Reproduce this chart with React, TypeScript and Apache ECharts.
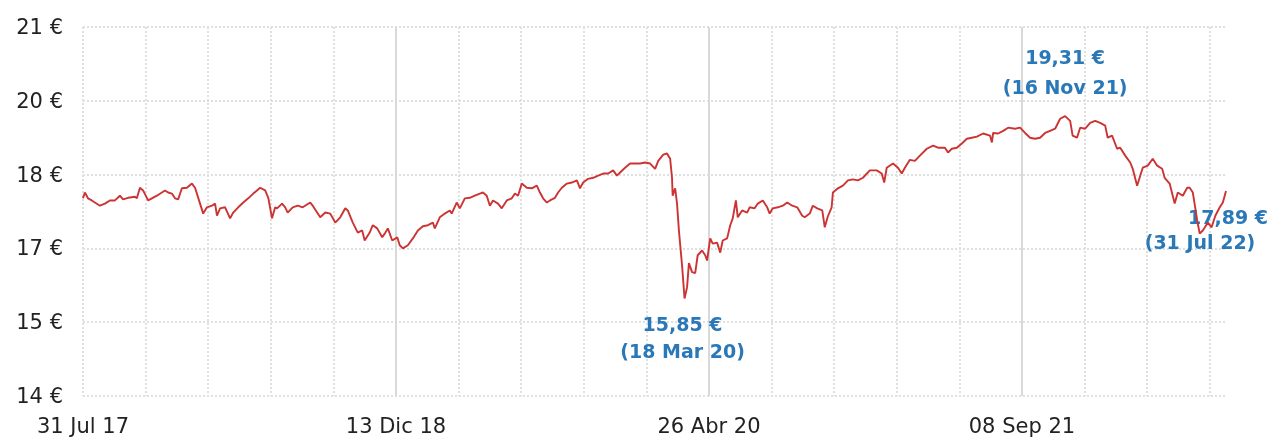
import React, { useEffect, useRef } from 'react';
import * as echarts from 'echarts';

const START_UTC = Date.UTC(2017, 6, 31);
const MONTHS_ES = ['Ene', 'Feb', 'Mar', 'Abr', 'May', 'Jun', 'Jul', 'Ago', 'Sep', 'Oct', 'Nov', 'Dic'];

const dayOffsets = [
  0, 3, 8, 14, 19, 27, 35, 43, 51, 59, 64, 72, 83, 86, 91, 96, 104, 110, 118, 126, 131, 136, 142, 147, 152, 158, 166, 174, 179, 187,
  192, 198, 206, 211, 214, 219, 227, 235, 240, 248, 256, 264, 272, 283, 291, 296, 302, 307, 310, 318, 323, 327, 335, 343, 351, 363, 367, 379, 387, 395,
  403, 411, 419, 423, 431, 439, 446, 450, 458, 463, 470, 478, 482, 487, 494, 502, 506, 511, 519, 527, 535, 543, 551, 559, 562, 570, 578, 586, 589, 597,
  602, 610, 618, 626, 634, 639, 645, 650, 655, 663, 669, 677, 685, 690, 695, 701, 709, 717, 725, 730, 735, 741, 746, 754, 759, 765, 773, 781, 789, 794,
  799, 807, 815, 823, 831, 839, 847, 853, 858, 866, 874, 882, 890, 898, 906, 914, 919, 927, 933, 938, 941, 942, 946, 949, 952, 957, 961, 965, 968, 973,
  978, 982, 989, 994, 997, 1002, 1006, 1013, 1018, 1022, 1029, 1034, 1038, 1043, 1046, 1053, 1061, 1065, 1073, 1078, 1086, 1093, 1097, 1102, 1110, 1118, 1125, 1133, 1141, 1149,
  1153, 1161, 1166, 1173, 1181, 1185, 1190, 1196, 1198, 1206, 1214, 1222, 1230, 1238, 1246, 1257, 1268, 1276, 1280, 1284, 1294, 1302, 1308, 1313, 1321, 1329, 1337, 1348, 1358, 1366,
  1377, 1382, 1388, 1396, 1404, 1412, 1420, 1428, 1438, 1449, 1452, 1454, 1462, 1470, 1478, 1489, 1497, 1505, 1513, 1521, 1529, 1537, 1545, 1553, 1561, 1569, 1577, 1581, 1588, 1593,
  1601, 1609, 1617, 1625, 1633, 1637, 1644, 1652, 1657, 1665, 1673, 1677, 1684, 1688, 1693, 1701, 1709, 1716, 1724, 1728, 1736, 1744, 1749, 1757, 1764, 1768, 1773, 1780, 1784, 1789,
  1797, 1803, 1809, 1816, 1821, 1826,
];

const prices = [
  17.75, 17.86, 17.75, 17.71, 17.67, 17.61, 17.65, 17.71, 17.71, 17.80, 17.73, 17.76, 17.78, 17.75, 17.95, 17.90, 17.71, 17.75, 17.80, 17.86, 17.90, 17.86, 17.84, 17.75, 17.73, 17.94, 17.95, 18.03, 17.95, 17.65,
  17.46, 17.58, 17.61, 17.65, 17.42, 17.56, 17.58, 17.37, 17.48, 17.58, 17.67, 17.75, 17.84, 17.95, 17.90, 17.76, 17.37, 17.58, 17.56, 17.65, 17.58, 17.48, 17.58, 17.61, 17.58, 17.67, 17.61, 17.39, 17.48, 17.46,
  17.29, 17.39, 17.56, 17.52, 17.29, 17.10, 17.14, 16.95, 17.10, 17.24, 17.18, 17.01, 17.08, 17.18, 16.95, 17.01, 16.86, 16.80, 16.86, 16.99, 17.14, 17.22, 17.24, 17.29, 17.18, 17.39, 17.46, 17.52, 17.46, 17.67,
  17.56, 17.75, 17.76, 17.80, 17.84, 17.86, 17.80, 17.61, 17.71, 17.65, 17.56, 17.71, 17.75, 17.84, 17.80, 18.03, 17.95, 17.94, 17.99, 17.86, 17.75, 17.67, 17.71, 17.76, 17.86, 17.95, 18.03, 18.05, 18.09, 17.94,
  18.05, 18.12, 18.14, 18.18, 18.22, 18.22, 18.28, 18.18, 18.24, 18.33, 18.41, 18.41, 18.41, 18.43, 18.41, 18.31, 18.46, 18.58, 18.60, 18.50, 18.14, 17.80, 17.94, 17.65, 17.14, 16.48, 15.85, 16.06, 16.52, 16.35,
  16.33, 16.67, 16.76, 16.67, 16.57, 16.99, 16.89, 16.91, 16.72, 16.95, 16.99, 17.24, 17.37, 17.71, 17.39, 17.52, 17.48, 17.58, 17.56, 17.65, 17.71, 17.58, 17.46, 17.56, 17.58, 17.61, 17.67, 17.61, 17.58, 17.42,
  17.39, 17.46, 17.61, 17.56, 17.52, 17.20, 17.41, 17.58, 17.86, 17.94, 17.99, 18.09, 18.11, 18.09, 18.14, 18.28, 18.28, 18.22, 18.05, 18.33, 18.41, 18.33, 18.22, 18.33, 18.48, 18.46, 18.56, 18.69, 18.75, 18.71,
  18.71, 18.62, 18.69, 18.71, 18.79, 18.88, 18.90, 18.92, 18.98, 18.94, 18.81, 18.99, 18.98, 19.03, 19.09, 19.07, 19.09, 18.99, 18.90, 18.88, 18.90, 18.99, 19.03, 19.07, 19.26, 19.31, 19.22, 18.94, 18.90, 19.09,
  19.07, 19.18, 19.22, 19.18, 19.13, 18.90, 18.94, 18.69, 18.71, 18.56, 18.43, 18.31, 17.99, 18.14, 18.33, 18.37, 18.50, 18.37, 18.31, 18.14, 18.03, 17.65, 17.86, 17.80, 17.95, 17.95, 17.86, 17.33, 17.08, 17.14,
  17.29, 17.20, 17.42, 17.58, 17.67, 17.89,
];

const X_MIN = 0;
const X_MAX = 1826;
const X_MINOR_STEP = 100;
const X_LABEL_STEP = 500;
const Y_MIN = 14;
const Y_MAX = 21;
const Y_STEP = 1.4;

function fmtDate(d: number): string {
  const dt = new Date(START_UTC + Math.round(d) * 86400000);
  const dd = String(dt.getUTCDate()).padStart(2, '0');
  const yy = String(dt.getUTCFullYear() % 100).padStart(2, '0');
  return `${dd} ${MONTHS_ES[dt.getUTCMonth()]} ${yy}`;
}

function fmtPrice(v: number): string {
  return v.toFixed(2).replace('.', ',') + ' €';
}

const FONT = '"DejaVu Sans", sans-serif';
const BLUE = '#2a78b8';
const GRID_DOT = '#e0e0e0';

export default function App() {
  const ref = useRef<HTMLDivElement>(null);

  useEffect(() => {
    if (!ref.current) return;
    const chart = echarts.init(ref.current, null, { renderer: 'svg' });

    const data = dayOffsets.map((d, i) => [d, prices[i]]);
    let maxI = 0;
    let minI = 0;
    prices.forEach((p, i) => {
      if (p > prices[maxI]) maxI = i;
      if (p < prices[minI]) minI = i;
    });
    const lastI = prices.length - 1;

    const ann = (i: number, text: string, offset: number[]) => ({
      coord: [dayOffsets[i], prices[i]],
      label: { formatter: text, offset },
    });

    chart.setOption({
      animation: false,
      grid: { left: 83, right: 45, top: 27, bottom: 41 },
      xAxis: [
        {
          type: 'value',
          min: X_MIN,
          max: X_MAX,
          interval: X_MINOR_STEP,
          axisLine: { show: false },
          axisTick: { show: false },
          axisLabel: {
            fontFamily: FONT,
            fontSize: 21,
            color: '#222',
            margin: 19,
            showMaxLabel: false,
            formatter: (v: number) => (Math.round(v) % X_LABEL_STEP === 0 ? fmtDate(v) : ''),
          },
          splitLine: {
            show: true,
            showMaxLine: false,
            lineStyle: { color: GRID_DOT, width: 2, type: [2, 2] },
          },
        },
        {
          type: 'value',
          min: X_MIN,
          max: X_MAX,
          interval: X_LABEL_STEP,
          position: 'bottom',
          axisLine: { show: false },
          axisTick: { show: false },
          axisLabel: { show: false },
          splitLine: {
            show: true,
            showMinLine: false,
            showMaxLine: false,
            lineStyle: { color: '#d9d9d9', width: 2, type: 'solid' },
          },
        },
      ],
      yAxis: {
        type: 'value',
        min: Y_MIN,
        max: Y_MAX,
        interval: Y_STEP,
        axisLine: { show: false },
        axisTick: { show: false },
        axisLabel: {
          fontFamily: FONT,
          fontSize: 21,
          color: '#222',
          margin: 20,
          formatter: (v: number) => `${Math.round(v)} €`,
        },
        splitLine: {
          show: true,
          lineStyle: { color: GRID_DOT, width: 2, type: [2, 2] },
        },
      },
      series: [
        {
          type: 'line',
          xAxisIndex: 0,
          data,
          showSymbol: false,
          symbol: 'none',
          lineStyle: { color: '#cc3333', width: 1.9 },
          z: 3,
          markPoint: {
            symbol: 'circle',
            symbolSize: 1,
            itemStyle: { color: 'rgba(0,0,0,0)' },
            z: 2,
            label: {
              show: true,
              position: 'inside',
              color: BLUE,
              fontWeight: 'bold',
              fontFamily: FONT,
              fontSize: 19,
            },
            data: [
              ann(maxI, fmtPrice(prices[maxI]), [0, -59]),
              ann(maxI, `(${fmtDate(dayOffsets[maxI])})`, [0, -29]),
              ann(minI, fmtPrice(prices[minI]), [-2, 26]),
              ann(minI, `(${fmtDate(dayOffsets[minI])})`, [-2, 53]),
              ann(lastI, fmtPrice(prices[lastI]), [2, 26]),
              ann(lastI, `(${fmtDate(dayOffsets[lastI])})`, [-26, 51]),
            ],
          },
        },
      ],
    });

    return () => chart.dispose();
  }, []);

  return <div ref={ref} style={{ position: 'fixed', left: 0, top: 0, width: 1271, height: 437 }} />;
}
